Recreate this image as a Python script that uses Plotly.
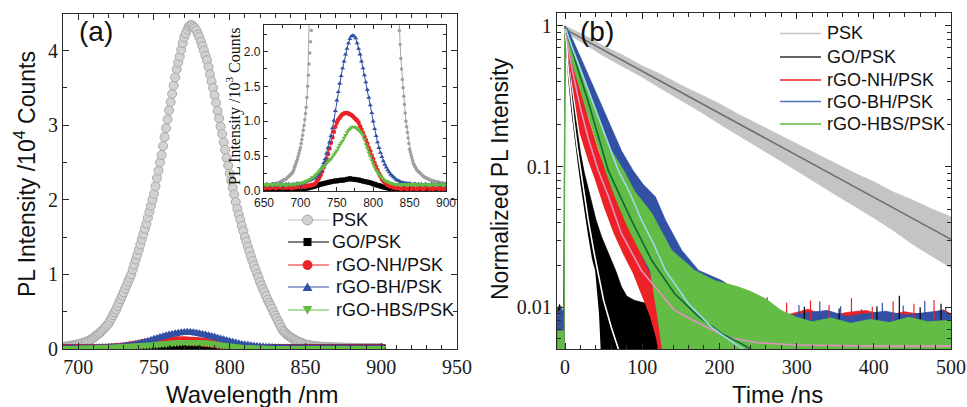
import plotly.graph_objects as go

# ---------------- (a) steady-state PL spectra ----------------
# PSK, x10^4 counts, 1 nm steps 650..900 (main panel shows from 690 on)
wl_psk = list(range(650, 901))
pl_psk = [
    0.008, 0.008, 0.009, 0.008, 0.009, 0.009, 0.008, 0.009, 0.009, 0.009,
    0.009, 0.010, 0.009, 0.010, 0.010, 0.010, 0.011, 0.010, 0.011, 0.011,
    0.012, 0.012, 0.013, 0.013, 0.014, 0.014, 0.015, 0.016, 0.016, 0.017,
    0.017, 0.018, 0.019, 0.020, 0.021, 0.022, 0.023, 0.024, 0.025, 0.026,
    0.028, 0.031, 0.034, 0.037, 0.040, 0.043, 0.046, 0.050, 0.054, 0.058,
    0.062, 0.068, 0.074, 0.080, 0.087, 0.094, 0.102, 0.111, 0.120, 0.134,
    0.150, 0.166, 0.182, 0.198, 0.214, 0.230, 0.252, 0.274, 0.296, 0.318,
    0.340, 0.378, 0.416, 0.454, 0.492, 0.530, 0.576, 0.622, 0.668, 0.714,
    0.760, 0.808, 0.856, 0.904, 0.952, 1.000, 1.066, 1.132, 1.198, 1.264,
    1.330, 1.400, 1.470, 1.540, 1.610, 1.680, 1.760, 1.840, 1.920, 2.000,
    2.080, 2.180, 2.290, 2.390, 2.500, 2.600, 2.720, 2.840, 2.960, 3.080,
    3.200, 3.310, 3.420, 3.530, 3.640, 3.750, 3.840, 3.920, 4.010, 4.100,
    4.180, 4.230, 4.280, 4.320, 4.340, 4.340, 4.320, 4.300, 4.270, 4.220,
    4.180, 4.120, 4.060, 4.000, 3.930, 3.870, 3.780, 3.680, 3.590, 3.500,
    3.400, 3.300, 3.190, 3.090, 2.980, 2.880, 2.770, 2.670, 2.560, 2.460,
    2.350, 2.260, 2.160, 2.070, 1.970, 1.880, 1.800, 1.730, 1.650, 1.580,
    1.500, 1.440, 1.370, 1.310, 1.240, 1.180, 1.120, 1.070, 1.010, 0.960,
    0.900, 0.850, 0.800, 0.760, 0.710, 0.660, 0.620, 0.580, 0.540, 0.490,
    0.450, 0.410, 0.370, 0.330, 0.290, 0.250, 0.230, 0.210, 0.190, 0.175,
    0.160, 0.148, 0.136, 0.124, 0.112, 0.100, 0.092, 0.084, 0.076, 0.068,
    0.060, 0.056, 0.052, 0.048, 0.044, 0.040, 0.038, 0.036, 0.034, 0.032,
    0.030, 0.029, 0.028, 0.027, 0.026, 0.025, 0.024, 0.023, 0.022, 0.021,
    0.020, 0.0195, 0.019, 0.0185, 0.018, 0.0175, 0.017, 0.0165, 0.016, 0.0155,
    0.015, 0.0148, 0.0145, 0.0143, 0.014, 0.0138, 0.0135, 0.0133, 0.013, 0.0128,
    0.0125, 0.0123, 0.012, 0.0118, 0.0115, 0.0113, 0.011, 0.0108, 0.0105, 0.0103,
    0.010,
]

# quenched samples, x10^3 counts (inset units), 2 nm steps 650..900
wl = list(range(650, 901, 2))
pl_go = [
    0.02, 0.03, 0.02, 0.02, 0.03, 0.02, 0.02, 0.03, 0.02, 0.03,
    0.02, 0.02, 0.03, 0.02, 0.03, 0.02, 0.02, 0.03, 0.02, 0.03,
    0.03, 0.02, 0.03, 0.02, 0.03, 0.03, 0.02, 0.03, 0.03, 0.04,
    0.04, 0.05, 0.05, 0.06, 0.06, 0.07, 0.08, 0.08, 0.09, 0.10,
    0.10, 0.11, 0.11, 0.12, 0.12, 0.13, 0.13, 0.14, 0.14, 0.15,
    0.14, 0.15, 0.15, 0.16, 0.15, 0.16, 0.16, 0.17, 0.17, 0.18,
    0.17, 0.17, 0.17, 0.16, 0.16, 0.16, 0.15, 0.15, 0.14, 0.14,
    0.13, 0.13, 0.12, 0.12, 0.11, 0.10, 0.10, 0.09, 0.08, 0.08,
    0.07, 0.06, 0.06, 0.05, 0.05, 0.04, 0.04, 0.03, 0.03, 0.03,
    0.02,
    0.02, 0.03, 0.02, 0.02, 0.03, 0.02, 0.02, 0.03, 0.02, 0.02,
    0.03, 0.02, 0.02, 0.03, 0.02, 0.02, 0.02, 0.03, 0.02, 0.02,
    0.03, 0.02, 0.02, 0.03, 0.02, 0.02, 0.03, 0.02, 0.02, 0.02,
    0.03, 0.02, 0.02, 0.03, 0.02,
]
pl_nh = [
    0.05, 0.04, 0.06, 0.05, 0.04, 0.05, 0.06, 0.05, 0.04, 0.05,
    0.06, 0.05, 0.05, 0.04, 0.06, 0.05, 0.05, 0.06, 0.05, 0.04,
    0.05, 0.06, 0.05, 0.06, 0.06, 0.05, 0.06, 0.07, 0.06, 0.07,
    0.07, 0.08, 0.08, 0.09, 0.09,
    0.10, 0.13, 0.16, 0.19, 0.23, 0.28, 0.34, 0.40, 0.46, 0.53,
    0.61, 0.69, 0.77, 0.85, 0.92, 0.98, 1.02, 1.05, 1.08, 1.10,
    1.11, 1.12, 1.12, 1.11, 1.10, 1.09, 1.07, 1.05, 1.03, 1.01,
    0.98, 0.93, 0.88, 0.83, 0.78, 0.73, 0.68, 0.62, 0.57, 0.51,
    0.46, 0.40, 0.35, 0.30, 0.25, 0.21, 0.17, 0.14, 0.12, 0.10,
    0.085, 0.075, 0.065, 0.06, 0.05,
    0.05, 0.04, 0.05, 0.04, 0.03, 0.04, 0.05, 0.04, 0.03, 0.04,
    0.04, 0.03, 0.05, 0.04, 0.04, 0.03, 0.04, 0.05, 0.04, 0.03,
    0.04, 0.04, 0.05, 0.03, 0.04, 0.04, 0.03, 0.04, 0.05, 0.04,
    0.03, 0.04, 0.04, 0.03, 0.04, 0.04,
]
pl_bh = [
    0.09, 0.08, 0.10, 0.09, 0.08, 0.09, 0.10, 0.08, 0.09, 0.09,
    0.08, 0.10, 0.09, 0.09, 0.08, 0.10, 0.09, 0.10, 0.09, 0.08,
    0.10, 0.09, 0.10, 0.11, 0.10, 0.10,
    0.11, 0.11, 0.12, 0.13, 0.14, 0.15, 0.16, 0.17, 0.18, 0.19,
    0.21, 0.23, 0.25, 0.29,
    0.34, 0.40, 0.46, 0.54, 0.62, 0.70, 0.79, 0.90, 1.01, 1.15,
    1.30, 1.42, 1.54, 1.65, 1.76, 1.86, 1.96, 2.04, 2.12, 2.18,
    2.22, 2.23, 2.22, 2.19, 2.12, 2.04, 1.96, 1.86, 1.76, 1.66,
    1.56, 1.45, 1.34, 1.23, 1.12, 1.00, 0.89, 0.79, 0.70, 0.62,
    0.55, 0.49, 0.43, 0.38, 0.34, 0.30, 0.27, 0.24, 0.22, 0.20,
    0.18, 0.16, 0.15, 0.14, 0.13, 0.12,
    0.12, 0.11, 0.11, 0.10, 0.11, 0.10, 0.09, 0.10, 0.10, 0.09,
    0.10, 0.09, 0.10, 0.08, 0.09, 0.10, 0.09, 0.09, 0.08, 0.10,
    0.09, 0.09, 0.08, 0.09, 0.10, 0.09, 0.08, 0.09, 0.09, 0.10,
]
pl_hbs = [
    0.09, 0.10, 0.08, 0.09, 0.10, 0.09, 0.08, 0.10, 0.09, 0.09,
    0.10, 0.08, 0.09, 0.10, 0.09, 0.08, 0.09, 0.10, 0.09, 0.09,
    0.10, 0.09, 0.10, 0.10, 0.11, 0.11,
    0.12, 0.12, 0.13, 0.14, 0.15, 0.16, 0.17, 0.19, 0.20, 0.22,
    0.24, 0.26, 0.29, 0.31, 0.33, 0.35, 0.37, 0.40, 0.42, 0.44,
    0.46, 0.49, 0.52, 0.55, 0.58, 0.62, 0.66, 0.69, 0.72, 0.76,
    0.80, 0.84, 0.87, 0.89, 0.91, 0.92, 0.92, 0.91, 0.89, 0.87,
    0.85, 0.83, 0.80, 0.74, 0.67, 0.61, 0.55, 0.50, 0.44, 0.39,
    0.34, 0.30, 0.27, 0.24, 0.21, 0.19, 0.17, 0.15, 0.14, 0.13,
    0.12, 0.11, 0.11, 0.10, 0.10,
    0.09, 0.10, 0.09, 0.08, 0.09, 0.10, 0.09, 0.09, 0.08, 0.10,
    0.09, 0.09, 0.10, 0.08, 0.09, 0.09, 0.10, 0.09, 0.08, 0.09,
    0.10, 0.09, 0.09, 0.08, 0.09, 0.10, 0.09, 0.08, 0.09, 0.09,
    0.10, 0.09, 0.08, 0.09, 0.09,
]

# ---------------- (b) TRPL decays (noisy data drawn as envelope bands) ----------------
FLOOR = 0.004
psk_t = [0, 25, 50, 75, 100, 125, 150, 175, 200, 225, 250, 275, 300, 325, 350, 375, 400, 425, 450, 475, 500]
psk_hi = [1.0, 0.86, 0.72, 0.62, 0.52, 0.45, 0.38, 0.325, 0.28, 0.235, 0.2, 0.172, 0.145, 0.125, 0.105, 0.09, 0.078, 0.066, 0.058, 0.05, 0.044]
psk_lo = [0.9, 0.74, 0.61, 0.51, 0.43, 0.355, 0.295, 0.245, 0.2, 0.166, 0.138, 0.113, 0.093, 0.077, 0.063, 0.052, 0.043, 0.035, 0.028, 0.023, 0.019]
psk_fit_t = [0, 100, 200, 300, 400, 500]
psk_fit = [0.95, 0.477, 0.24, 0.12, 0.0605, 0.0304]

go_t_hi = [-10, -7, -4, -1, 0, 2, 4, 8, 12, 16, 20, 25, 30, 35, 40, 47, 58, 66, 73, 80, 90, 104, 115, 125, 140,
           160, 180, 200, 230, 260, 290, 320, 350, 380, 410, 440, 470, 500]
go_hi = [0.0095, 0.0105, 0.009, 0.0098, 1.0, 0.8, 0.58, 0.36, 0.25, 0.17, 0.125, 0.09, 0.07, 0.055, 0.042,
         0.032, 0.023, 0.018, 0.014, 0.012, 0.0112, 0.0107, 0.0095, 0.0081, 0.0078,
         0.0088, 0.0082, 0.009, 0.0085, 0.0092, 0.0084, 0.009, 0.0086, 0.0093, 0.0085, 0.0089, 0.0091, 0.0086]
go_t_lo = [-10, -0.5, 0, 4, 8, 12, 16, 20, 25, 30, 35, 39, 44, 47, 500]
go_lo = [FLOOR, FLOOR, 0.9, 0.42, 0.25, 0.16, 0.11, 0.075, 0.048, 0.032, 0.022, 0.0183, 0.009, FLOOR, FLOOR]
go_fit_t = [0, 2, 4, 8, 12, 16, 20, 24, 30, 37, 43, 50, 60, 70]
go_fit = [0.95, 0.75, 0.5, 0.3, 0.2, 0.135, 0.095, 0.07, 0.042, 0.0255, 0.017, 0.0112, 0.0072, 0.0049]

nh_t_hi = [-10, -6, -3, -1, 0, 5, 10, 20, 30, 43, 56, 73, 99, 117, 142, 160, 175, 195, 215, 240,
           265, 290, 315, 340, 365, 390, 415, 440, 465, 490, 500]
nh_hi = [0.0088, 0.0097, 0.0085, 0.009, 1.0, 0.85, 0.62, 0.35, 0.22, 0.13, 0.085, 0.048, 0.026, 0.02, 0.0135,
         0.011, 0.0094, 0.0088, 0.0096, 0.0087, 0.0094, 0.0089, 0.0097, 0.0086, 0.0092, 0.0095, 0.0087,
         0.0093, 0.0088, 0.0096, 0.009]
nh_t_lo = [-10, -0.5, 0, 3, 10, 19, 30, 39, 50, 63, 75, 88, 100, 110, 118, 123, 500]
nh_lo = [FLOOR, FLOOR, 0.85, 0.65, 0.36, 0.172, 0.11, 0.08, 0.052, 0.0335, 0.024, 0.0174, 0.012, 0.0086, 0.006, FLOOR, FLOOR]
nh_fit_t = [1, 5, 10, 20, 30, 43, 56, 73, 99, 117, 142, 173, 211, 250, 300, 400, 500]
nh_fit = [0.9, 0.65, 0.47, 0.26, 0.16, 0.094, 0.062, 0.0335, 0.0183, 0.014, 0.0095, 0.0077, 0.0061, 0.0056, 0.0054, 0.0053, 0.0053]

bh_t_hi = [-10, -8, -5, -2, 0, 4, 20, 40, 60, 73, 88, 101, 117, 130, 151, 173, 203, 229, 250, 270,
           290, 315, 340, 365, 390, 415, 440, 465, 490, 500]
bh_hi = [0.0098, 0.009, 0.0102, 0.0088, 1.0, 0.94, 0.6, 0.34, 0.19, 0.13, 0.094, 0.075, 0.061, 0.0417, 0.0255,
         0.0183, 0.0155, 0.0125, 0.011, 0.0093, 0.0087, 0.0092, 0.0095, 0.0086, 0.009, 0.0094, 0.0088,
         0.0091, 0.0095, 0.0087]
bh_t_lo = [-10, -0.5, 0, 10, 20, 30, 40, 50, 60, 70, 80, 90, 100, 115, 130, 145, 160, 500]
bh_lo = [FLOOR, FLOOR, 0.85, 0.55, 0.38, 0.26, 0.18, 0.125, 0.09, 0.063, 0.045, 0.032, 0.023, 0.015, 0.01, 0.007, FLOOR, FLOOR]
bh_fit_t = [1, 10, 20, 30, 40, 50, 60, 69, 84, 99, 115, 130, 160, 190, 220, 235]
bh_fit = [0.95, 0.68, 0.49, 0.35, 0.25, 0.18, 0.13, 0.094, 0.065, 0.0417, 0.028, 0.0183, 0.0106, 0.0072, 0.0055, 0.0049]

hbs_t_hi = [-10, -1, -0.5, 0, 10, 20, 30, 40, 50, 60, 76, 90, 112, 138, 168, 194, 224, 240, 260, 280,
            300, 320, 345, 370, 395, 420, 445, 470, 500]
hbs_hi = [0.0068, 0.0068, 0.98, 0.98, 0.7, 0.5, 0.36, 0.26, 0.18, 0.13, 0.094, 0.067, 0.047, 0.0255, 0.0183,
          0.0155, 0.014, 0.013, 0.0115, 0.0095, 0.0085, 0.0079, 0.0084, 0.0077, 0.0082, 0.0078, 0.0085,
          0.0079, 0.0081]
hbs_t_lo = [-10, -0.5, 0, 10, 20, 30, 40, 52, 65, 80, 95, 110, 120, 128, 500]
hbs_lo = [FLOOR, FLOOR, 0.85, 0.52, 0.34, 0.23, 0.155, 0.094, 0.06, 0.038, 0.026, 0.0183, 0.0082, FLOOR, FLOOR]
hbs_fit_t = [1, 10, 20, 30, 40, 56, 69, 86, 112, 142, 173, 203, 229, 244]
hbs_fit = [0.95, 0.64, 0.43, 0.29, 0.19, 0.094, 0.066, 0.0417, 0.0217, 0.0125, 0.0086, 0.0065, 0.0055, 0.0049]

# single noisy counts sticking out of the background
SPIKE_BASE = 0.0082
red_spk_t = [152, 178, 205, 233, 262, 287, 318, 342, 371, 398, 425, 452, 478]
red_spk = [0.0115, 0.0105, 0.011, 0.0102, 0.0118, 0.0108, 0.0112, 0.0104, 0.0116, 0.0101, 0.011, 0.0106, 0.0113]
blue_spk_t = [160, 190, 222, 248, 276, 303, 330, 357, 384, 411, 438, 466, 493]
blue_spk = [0.0108, 0.0112, 0.0101, 0.0106, 0.0099, 0.0104, 0.011, 0.0102, 0.0097, 0.0108, 0.0103, 0.0111, 0.01]
black_spk_t = [170, 215, 268, 310, 355, 404, 433, 460, 487]
black_spk = [0.0104, 0.0099, 0.0103, 0.0101, 0.0098, 0.0102, 0.0121, 0.01, 0.0106]

names = ['PSK', 'GO/PSK', 'rGO-NH/PSK', 'rGO-BH/PSK', 'rGO-HBS/PSK']

C_GREY = '#c4c4c4'
C_RED = '#ec2227'
C_BLUE = '#3250a4'
C_GREEN = '#63bc45'
SANS = 'Liberation Sans'
SERIF = 'Liberation Serif'
W, H = 967, 407

fig = go.Figure()

# ---- main panel (a) ----
fig.add_trace(go.Scatter(x=wl_psk, y=pl_psk, mode='lines+markers',
                         line=dict(color='#c8c8c8', width=1),
                         marker=dict(symbol='circle', size=9, color='#d2d2d2', line=dict(color='#a9a9a9', width=1))))
small = [(pl_go, 'black', 'square'), (pl_nh, C_RED, 'circle'),
         (pl_bh, C_BLUE, 'triangle-up'), (pl_hbs, C_GREEN, 'triangle-down')]
for vals, col, sym in small:
    fig.add_trace(go.Scatter(x=wl, y=[v / 10 for v in vals], mode='lines+markers',
                             line=dict(color=col, width=1),
                             marker=dict(symbol=sym, size=9, color=col, line=dict(width=0))))

# ---- inset ----
fig.add_trace(go.Scatter(x=wl_psk, y=[v * 10 for v in pl_psk], mode='lines+markers', xaxis='x2', yaxis='y2',
                         line=dict(color='#a8a8a8', width=1),
                         marker=dict(symbol='circle', size=3.5, color='#a0a0a0')))
for vals, col, sym in small:
    fig.add_trace(go.Scatter(x=wl, y=vals, mode='lines+markers', xaxis='x2', yaxis='y2',
                             line=dict(color=col, width=1),
                             marker=dict(symbol=sym, size=4.5, color=col, line=dict(width=0))))


# ---- panel (b) ----
def band(t_lo, lo, t_hi, hi, col):
    fig.add_trace(go.Scatter(x=t_lo, y=lo, mode='lines', line=dict(width=0, color=col),
                             xaxis='x3', yaxis='y3', hoverinfo='skip'))
    fig.add_trace(go.Scatter(x=t_hi, y=hi, mode='lines', line=dict(width=0.8, color=col),
                             fill='tonexty', fillcolor=col,
                             xaxis='x3', yaxis='y3', hoverinfo='skip'))


def spikes(ts, vs, col):
    xs, ys = [], []
    for t, v in zip(ts, vs):
        xs += [t, t, None]
        ys += [SPIKE_BASE, v, None]
    fig.add_trace(go.Scatter(x=xs, y=ys, mode='lines', line=dict(width=1.2, color=col),
                             xaxis='x3', yaxis='y3', hoverinfo='skip'))


def fit(ts, vs, col, w=1.6):
    fig.add_trace(go.Scatter(x=ts, y=vs, mode='lines', line=dict(width=w, color=col),
                             xaxis='x3', yaxis='y3', hoverinfo='skip'))


band(psk_t, psk_lo, psk_t, psk_hi, C_GREY)
band(go_t_lo, go_lo, go_t_hi, go_hi, 'black')
band(nh_t_lo, nh_lo, nh_t_hi, nh_hi, C_RED)
band(bh_t_lo, bh_lo, bh_t_hi, bh_hi, C_BLUE)
spikes(black_spk_t, black_spk, 'black')
spikes(red_spk_t, red_spk, C_RED)
spikes(blue_spk_t, blue_spk, C_BLUE)
band(hbs_t_lo, hbs_lo, hbs_t_hi, hbs_hi, C_GREEN)

fit(psk_fit_t, psk_fit, '#6e6e6e')
fit(go_fit_t, go_fit, 'white')
fit(nh_fit_t, nh_fit, '#e58fc4')
fit(hbs_fit_t, hbs_fit, '#0b6a3a')
fit(bh_fit_t, bh_fit, '#9fd8ee')

# ---- axes ----
ax = dict(showline=True, linecolor='#2a2a2a', linewidth=1.3, mirror='allticks', ticks='inside',
          ticklen=6, tickwidth=1.2, tickcolor='#2a2a2a', showgrid=False, zeroline=False, automargin=False)
big_tick = dict(family=SERIF, size=20, color='#1a1a1a')
small_tick = dict(family=SANS, size=12, color='#1a1a1a')
minor = dict(ticks='inside', ticklen=3.5, tickwidth=1, tickcolor='#2a2a2a', showgrid=False)

fig.update_layout(
    width=W, height=H,
    margin=dict(l=0, r=0, t=0, b=0),
    paper_bgcolor='white', plot_bgcolor='white',
    showlegend=False,
    xaxis=dict(ax, domain=[0.0652, 0.4726], anchor='y', range=[690, 950], dtick=50, tick0=700,
               tickfont=big_tick, minor=dict(minor, dtick=10)),
    yaxis=dict(ax, domain=[0.1425, 0.9656], anchor='x', range=[0, 4.49], dtick=1,
               tickfont=big_tick, minor=dict(minor, dtick=0.5)),
    xaxis2=dict(ax, domain=[0.2730, 0.4612], anchor='y2', range=[650, 900], dtick=50, ticklen=4,
                tickfont=small_tick, minor=dict(minor, dtick=25, ticklen=2.5)),
    yaxis2=dict(ax, domain=[0.5307, 0.9386], anchor='x2', range=[0, 2.38], dtick=0.5, tickformat='.1f',
                ticklen=4, tickfont=small_tick, minor=dict(minor, dtick=0.25, ticklen=2.5)),
    xaxis3=dict(ax, domain=[0.5760, 0.9835], anchor='y3', range=[-10.4, 500], dtick=100, tick0=0,
                tickfont=big_tick, minor=dict(minor, dtick=20)),
    yaxis3=dict(ax, domain=[0.1425, 0.9673], anchor='x3', type='log', range=[-2.296, 0.090],
                tickvals=[0.01, 0.1, 1], ticktext=['0.01', '0.1', '1'], tickfont=big_tick,
                minor=dict(minor, tickvals=[0.006, 0.007, 0.008, 0.009, 0.02, 0.03, 0.04, 0.05, 0.06,
                                            0.07, 0.08, 0.09, 0.2, 0.3, 0.4, 0.5, 0.6, 0.7, 0.8, 0.9])),
)


def px(x):
    return x / W


def py(y):
    return 1 - y / H


# ---- hand-placed legends (pixel layout) ----
leg_a = dict(rows=[220, 242, 265, 287, 310], x0=288, x1=329, text_x=[330, 330, 334, 334, 334])
leg_a_style = [('#bdbdbd', '#d2d2d2', 'circle', 10), ('black', 'black', 'square', 8),
               (C_RED, C_RED, 'circle', 9), (C_BLUE, C_BLUE, 'tri-up', 10), (C_GREEN, C_GREEN, 'tri-down', 10)]
shapes = []
for y, nm, (lc, mc, sym, s), tx in zip(leg_a['rows'], names, leg_a_style, leg_a['text_x']):
    shapes.append(dict(type='line', xref='paper', yref='paper', x0=px(leg_a['x0']), x1=px(leg_a['x1']),
                       y0=py(y), y1=py(y), line=dict(color=lc, width=1.2)))
    cx = (leg_a['x0'] + leg_a['x1']) / 2 - 1
    h = s / 2
    if sym == 'circle':
        shapes.append(dict(type='circle', xref='paper', yref='paper', x0=px(cx - h), x1=px(cx + h),
                           y0=py(y + h), y1=py(y - h), fillcolor=mc,
                           line=dict(color='#a9a9a9' if nm == 'PSK' else mc, width=1)))
    elif sym == 'square':
        shapes.append(dict(type='rect', xref='paper', yref='paper', x0=px(cx - h), x1=px(cx + h),
                           y0=py(y + h), y1=py(y - h), fillcolor=mc, line=dict(color=mc, width=0)))
    else:
        sgn = 1 if sym == 'tri-up' else -1
        pts = [(cx - h, y + sgn * h * 0.8), (cx + h, y + sgn * h * 0.8), (cx, y - sgn * h * 0.9)]
        path = 'M' + ' L'.join(f'{px(a):.5f},{py(b):.5f}' for a, b in pts) + ' Z'
        shapes.append(dict(type='path', xref='paper', yref='paper', path=path, fillcolor=mc,
                           line=dict(color=mc, width=0)))
    fig.add_annotation(xref='paper', yref='paper', x=px(tx), y=py(y), text=nm, showarrow=False,
                       xanchor='left', yanchor='middle', font=dict(family=SANS, size=18, color='#111'))

leg_b = dict(rows=[33.5, 57, 80, 101.5, 124], x0=780, x1=821, text_x=825)
leg_b_cols = [C_GREY, '#333333', C_RED, '#5470b8', C_GREEN]
for y, nm, col in zip(leg_b['rows'], names, leg_b_cols):
    shapes.append(dict(type='line', xref='paper', yref='paper', x0=px(leg_b['x0']), x1=px(leg_b['x1']),
                       y0=py(y), y1=py(y), line=dict(color=col, width=1.5)))
    fig.add_annotation(xref='paper', yref='paper', x=px(leg_b['text_x']), y=py(y), text=nm, showarrow=False,
                       xanchor='left', yanchor='middle', font=dict(family=SANS, size=18, color='#111'))
fig.update_layout(shapes=shapes)

ann = [
    dict(x=px(96), y=py(32), text='(a)', font=dict(family=SANS, size=28)),
    dict(x=px(597), y=py(31), text='(b)', font=dict(family=SANS, size=28)),
    dict(x=px(252), y=py(394), text='Wavelength /nm', font=dict(family=SANS, size=24)),
    dict(x=px(777), y=py(394), text='Time /ns', font=dict(family=SANS, size=24)),
    dict(x=px(25), y=py(174), text='PL Intensity /10<sup>4</sup> Counts', textangle=-90,
         font=dict(family=SANS, size=23)),
    dict(x=px(500), y=py(179), text='Normalized PL Intensity', textangle=-90, font=dict(family=SANS, size=23)),
    dict(x=px(233), y=py(107), text='PL Intensity /10<sup>3</sup> Counts', textangle=-90,
         font=dict(family=SERIF, size=16)),
]
for a in ann:
    a['font'].setdefault('color', '#111')
    fig.add_annotation(xref='paper', yref='paper', showarrow=False, xanchor='center', yanchor='middle', **a)

# page body has a default 8px margin; drop it so the figure sits at the window origin
fig.write_html("out.html", config={'displayModeBar': False},
               post_script="document.body.style.margin='0';")
